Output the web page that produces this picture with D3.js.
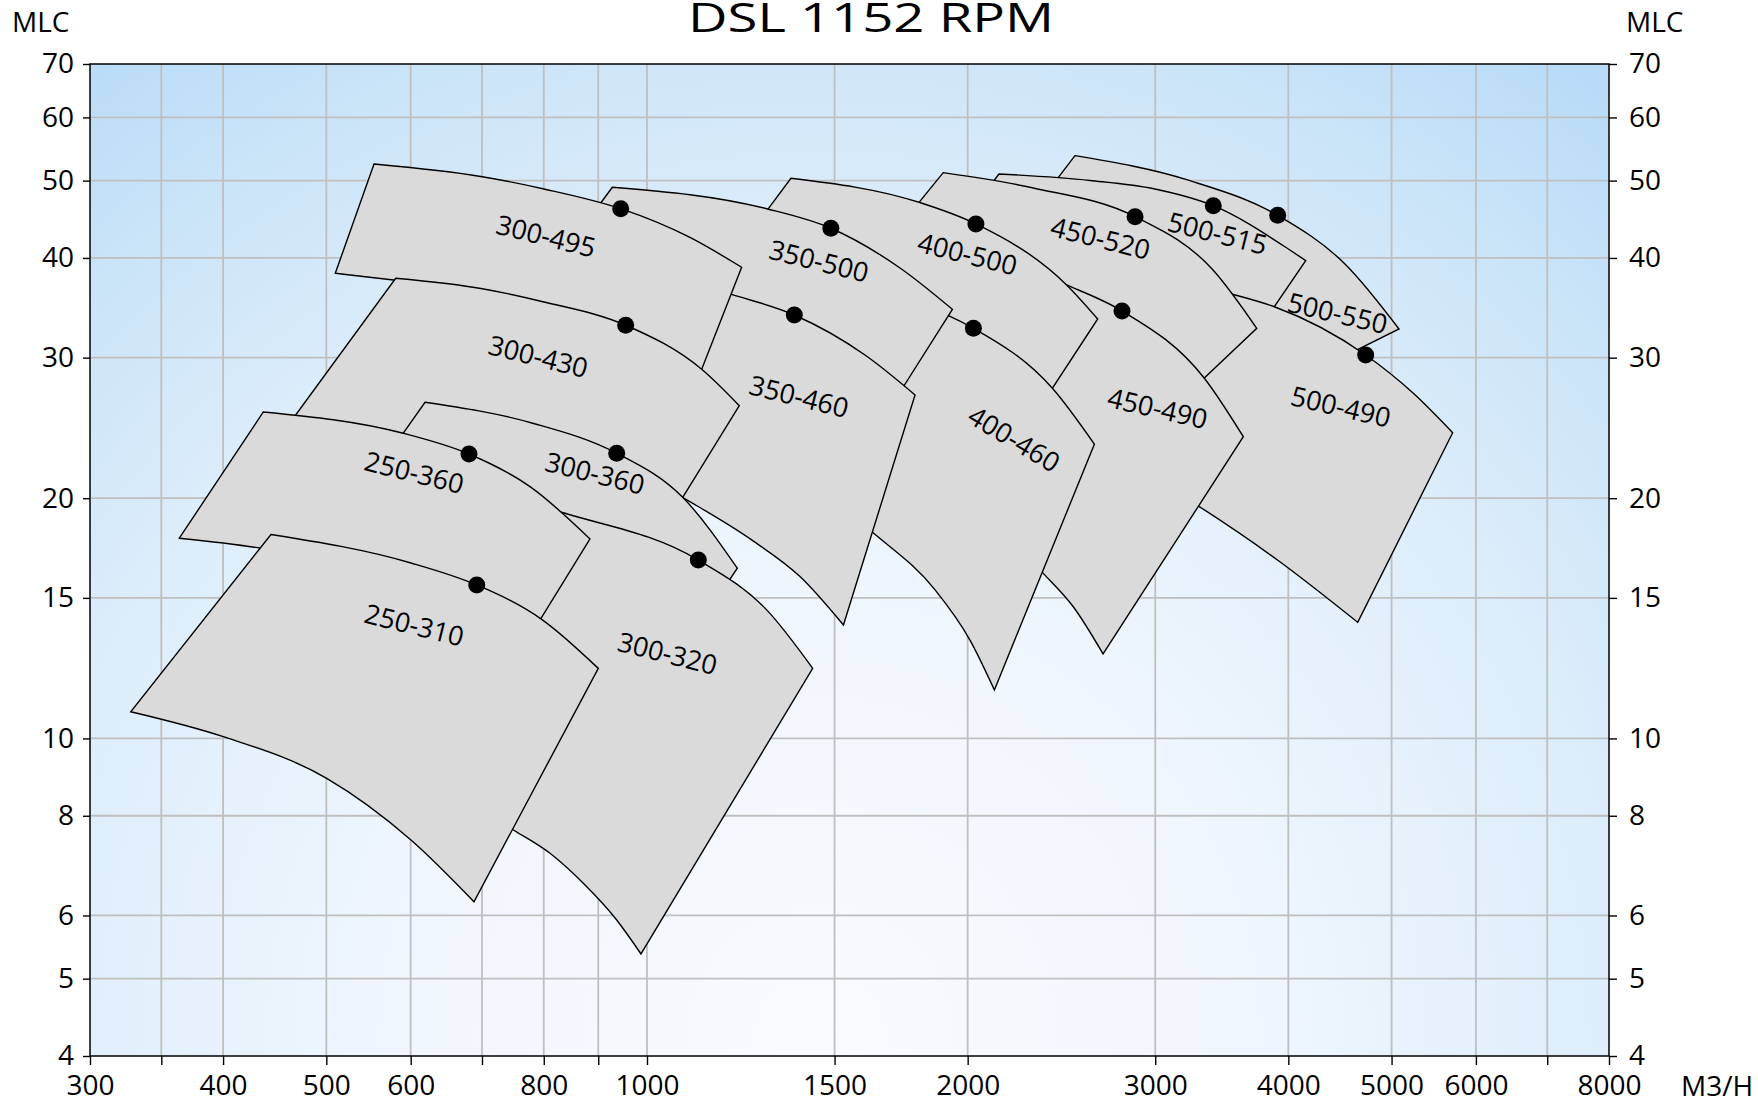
<!DOCTYPE html>
<html>
<head>
<meta charset="utf-8">
<script src="https://cdn.jsdelivr.net/npm/d3@7"></script>
<style>
  html, body { margin: 0; padding: 0; background: #fff; }
  svg text { font-family: "Open Sans", sans-serif; fill: #000; }
</style>
</head>
<body>
<svg id="chart" width="1758" height="1102"></svg>
<script>
// Pump names, in the order they are stacked (first = bottom)
const tileNames = ["500-550","500-515","500-490","450-520","450-490","400-500","400-460",
                   "350-500","350-460","300-495","300-430","300-360","300-320","250-360","250-310"];

// Max impeller curves [m3/h, m]
const topCurves = [
  [[2522,53.73],[3234,49.99],[3909,45.24],[4521,39.31],[5081,32.59]],
  [[2140,50.97],[2605,50.02],[2998,48.81],[3401,46.51],[4000,41.05],[4153,39.69]],
  [[3199,37.21],[3565,35.95],[3881,34.75],[4728,30.23],[5241,27.07],[5706,24.16]],
  [[1897,51.16],[2305,48.95],[2872,45.06],[3399,38.64],[3736,32.65]],
  [[2289,38.64],[2477,37.00],[2792,34.33],[3336,28.27],[3629,23.88]],
  [[1365,50.34],[1800,46.97],[2036,44.12],[2477,37.00],[2649,33.54]],
  [[1728,35.43],[1925,33.79],[2025,32.65],[2402,27.46],[2630,23.37]],
  [[927.8,49.05],[1298,46.07],[1488,43.58],[1728,38.86],[1935,34.49]],
  [[1121,37.00],[1202.5,35.98],[1375,33.93],[1602,30.23],[1785,26.94]],
  [[554.3,52.46],[700.5,50.57],[800.4,48.81],[944.8,46.11],[1095,42.50],[1227,38.94]],
  [[580.9,37.72],[700.5,36.60],[800.4,35.23],[955.0,32.94],[1125.5,29.01],[1220.8,26.12]],
  [[618.9,26.38],[781.1,24.83],[936.6,22.77],[1080.2,20.05],[1215.6,16.34]],
  [[776.6,19.73],[837.6,19.15],[1117.3,16.73],[1295.3,14.49],[1430.7,12.24]],
  [[436.3,25.65],[590.5,24.12],[680.6,22.72],[776.6,20.68],[884.1,17.78]],
  [[443.6,18.01],[600.4,16.59],[692.1,15.57],[796.4,14.10],[900.1,12.24]]
];

// Min impeller curves [m3/h, m]
const bottomCurves = [
  [[2344,47.28],[2966,43.99],[3603,38.64],[4283,29.08]],
  [[2050,47.28],[2662,42.13],[3305,36.47],[3722,32.03]],
  [[2966,21.32],[3302,19.51],[3913,16.71],[4647,13.98]],
  [[1709,43.11],[2145,39.54],[2605,34.42],[3165,26.48]],
  [[2145,18.25],[2355,16.10],[2513,14.62],[2680,12.76]],
  [[1236,42.13],[1551,36.47],[1925,31.12],[2313,25.43]],
  [[1518,19.61],[1623,18.19],[1864,15.35],[2010,13.28],[2119,11.50]],
  [[859.6,42.74],[1028.5,39.20],[1201.7,35.69],[1375,33.74],[1728,27.17]],
  [[1006.5,21.20],[1080.2,20.05],[1254,17.73],[1392,15.95],[1529,13.87]],
  [[509.8,38.27],[580.9,37.51],[700.5,36.39],[800.4,35.03],[955.6,32.75],[1122.9,28.79]],
  [[442.7,22.98],[586.3,21.70],[810.9,20.19],[1051,18.89]],
  [[580.0,23.32],[727.8,20.48],[943.3,17.32],[1176,15.30]],
  [[682.1,8.253],[749.0,7.678],[810.9,7.179],[871.4,6.584],[936.6,5.922],[987.1,5.369]],
  [[363.9,17.82],[434.2,17.31],[561.5,16.03],[762.6,12.91]],
  [[327.6,10.80],[400.2,10.05],[500.4,8.913],[600.4,7.460],[688.0,6.243]]
];

// Best efficiency points
const bepPoints = [[3909,45.24],[3401,46.51],[4728,30.23],[2872,45.06],[2792,34.33],[2036,44.12],
  [2025,32.65],[1488,43.58],[1375,33.93],[944.8,46.11],[955.0,32.94],[936.6,22.77],
  [1117.3,16.73],[680.6,22.72],[692.1,15.57]];

// Where the name sits, and its tilt
const labelPoints = [[4449,34.10],[3432,42.95],[4480,26.04],[2665,42.34],[3015,25.92],[1999,40.46],
  [2211,23.73],[1450,39.65],[1389,26.81],[803.9,42.62],[790.6,30.09],[893.7,21.49],
  [1045.3,12.78],[604.6,21.54],[604.6,13.87]];
const labelAngles = [13,14,13,14,13,14,31,14,14,14,14,14,14,14,14];

// Axes
const xTicks  = [300,350,400,500,600,700,800,900,1000,1500,2000,3000,4000,5000,6000,7000,8000];
const xLabels = [300,400,500,600,800,1000,1500,2000,3000,4000,5000,6000,8000];
const yTicks  = [4,5,6,8,10,15,20,30,40,50,60,70];

const plot = { left: 90, right: 1609, top: 64, bottom: 1056 };

const svg = d3.select("#chart");
const x = d3.scaleLog().domain([300, 8000]).range([plot.left, plot.right]);
const y = d3.scaleLog().domain([4, 70]).range([plot.bottom, plot.top]);

// 1) Background gradient
const defs = svg.append("defs");
const grad = defs.append("radialGradient")
  .attr("id", "bg-grad")
  .attr("gradientUnits", "userSpaceOnUse")
  .attr("cx", 820).attr("cy", 1040).attr("r", 1230);
[[0, "#f8fbfe"], [0.35, "#f0f6fd"], [0.65, "#ddedfb"], [0.85, "#cae4f8"], [1, "#b9dbf7"]]
  .forEach(([o, c]) => grad.append("stop").attr("offset", o).attr("stop-color", c));

svg.append("rect")
  .attr("x", plot.left).attr("y", plot.top)
  .attr("width", plot.right - plot.left).attr("height", plot.bottom - plot.top)
  .attr("fill", "url(#bg-grad)");

// 2) Grid
const grid = svg.append("g").attr("stroke", "#bfbfbf").attr("stroke-width", 1.8);
xTicks.slice(1, -1).forEach(v => {
  grid.append("line").attr("x1", x(v)).attr("x2", x(v)).attr("y1", plot.top).attr("y2", plot.bottom);
});
yTicks.slice(1, -1).forEach(v => {
  grid.append("line").attr("x1", plot.left).attr("x2", plot.right).attr("y1", y(v)).attr("y2", y(v));
});

// 3) Pump tiles
const lineGen = d3.line()
  .x(d => x(d[0]))
  .y(d => y(d[1]))
  .curve(d3.curveMonotoneX);

function tilePath(top, bot) {
  const t = lineGen(top);
  const b = lineGen(bot.slice().reverse());
  return t + "L" + b.slice(1) + "Z";
}

const tiles = svg.append("g");
tileNames.forEach((name, i) => {
  tiles.append("path")
    .attr("d", tilePath(topCurves[i], bottomCurves[i]))
    .attr("fill", "#dadada")
    .attr("stroke", "#000")
    .attr("stroke-width", 1.4)
    .attr("stroke-linejoin", "miter");
});

svg.append("g").selectAll("circle")
  .data(bepPoints)
  .join("circle")
    .attr("cx", d => x(d[0]))
    .attr("cy", d => y(d[1]))
    .attr("r", 8.5)
    .attr("fill", "#000");

svg.append("g").selectAll("text")
  .data(tileNames)
  .join("text")
    .attr("transform", (d, i) =>
      `translate(${x(labelPoints[i][0])},${y(labelPoints[i][1])}) rotate(${labelAngles[i]})`)
    .attr("text-anchor", "middle")
    .attr("dy", "0.36em")
    .style("font-size", "27px")
    .text(d => d);

// 4) Frame + axes
svg.append("rect")
  .attr("x", plot.left).attr("y", plot.top)
  .attr("width", plot.right - plot.left).attr("height", plot.bottom - plot.top)
  .attr("fill", "none").attr("stroke", "#000").attr("stroke-width", 1.5);

const fmt = d3.format("d");
const xAxis = d3.axisBottom(x)
  .tickValues(xTicks)
  .tickFormat(d => xLabels.includes(d) ? fmt(d) : "")
  .tickSize(9).tickSizeOuter(0).tickPadding(10);
const yLeft = d3.axisLeft(y).tickValues(yTicks).tickFormat(fmt)
  .tickSize(7).tickSizeOuter(0).tickPadding(9);
const yRight = d3.axisRight(y).tickValues(yTicks).tickFormat(fmt)
  .tickSize(8).tickSizeOuter(0).tickPadding(12);

function styleAxis(g) {
  g.select(".domain").remove();
  g.selectAll(".tick line").attr("stroke", "#000").attr("stroke-width", 1.4);
  g.selectAll(".tick text")
    .style("font-family", '"Open Sans", sans-serif')
    .style("font-size", "28px")
    .attr("fill", "#000");
}

svg.append("g").attr("transform", `translate(0,${plot.bottom})`).call(xAxis).call(styleAxis);
svg.append("g").attr("transform", `translate(${plot.left},0)`).call(yLeft).call(styleAxis);
svg.append("g").attr("transform", `translate(${plot.right},0)`).call(yRight).call(styleAxis);

// 5) Titles
svg.append("text")
  .attr("x", 871).attr("y", 32)
  .attr("text-anchor", "middle")
  .attr("textLength", 366)
  .attr("lengthAdjust", "spacingAndGlyphs")
  .style("font-size", "40px")
  .text("DSL 1152 RPM");

svg.append("text").attr("x", 12).attr("y", 32).style("font-size", "28px").text("MLC");
svg.append("text").attr("x", 1626).attr("y", 32).style("font-size", "28px").text("MLC");
svg.append("text").attr("x", 1681).attr("y", 1096).style("font-size", "28px").text("M3/H");
</script>
</body>
</html>
